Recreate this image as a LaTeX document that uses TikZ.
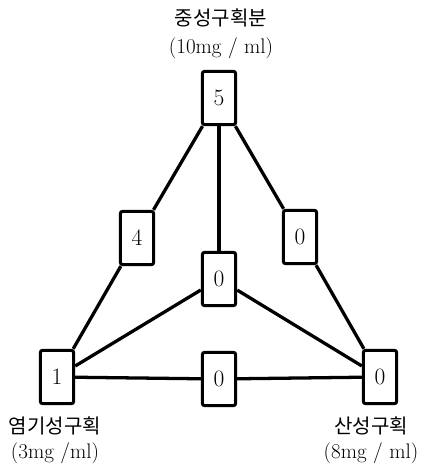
\documentclass[tikz,border=0pt]{standalone}
\usepackage{fontspec}
\newfontfamily\kr{Noto Sans CJK KR}[Scale=0.95]
\usetikzlibrary{positioning}
\tikzset{
  cell/.style={draw=black, rectangle, rounded corners=2pt, line width=2.6pt, minimum width=1.0cm, minimum height=1.6cm, inner sep=0pt, font=\fontsize{20}{24}\selectfont, fill=white},
  link/.style={line width=2.8pt, draw=black},
  lbl/.style={align=center, inner sep=0pt, font=\fontsize{18}{21}\selectfont}
}
\begin{document}
\begin{tikzpicture}[x=0.03cm, y=-0.03cm]
\useasboundingbox (0,0) rectangle (425,466);

% fractions
\node[cell] (neu) at (219,98) {5};
\node[cell] (bas) at (57,377) {1};
\node[cell] (aci) at (380,377) {0};
% transfers
\node[cell] (nb) at (137,238) {4};
\node[cell] (na) at (300,237) {0};
\node[cell] (mid) at (219,279) {0};
\node[cell] (ba) at (219,379) {0};

\draw[link] (neu) -- (nb);
\draw[link] (nb) -- (bas);
\draw[link] (neu) -- (na);
\draw[link] (na) -- (aci);
\draw[link] (neu) -- (mid);
\draw[link] (mid) -- (bas);
\draw[link] (mid) -- (aci);
\draw[link] (bas) -- (ba);
\draw[link] (ba) -- (aci);

\node[lbl, font=\fontsize{18}{24}\selectfont] (tneu) at (221,34) {{\kr 중성구획분}\\(10mg / ml)};
\node[lbl] (tbas) at (55,440) {{\kr 염기성구획}\\(3mg /ml)};
\node[lbl] (taci) at (371,440) {{\kr 산성구획}\\(8mg / ml)};

\end{tikzpicture}
\end{document}
